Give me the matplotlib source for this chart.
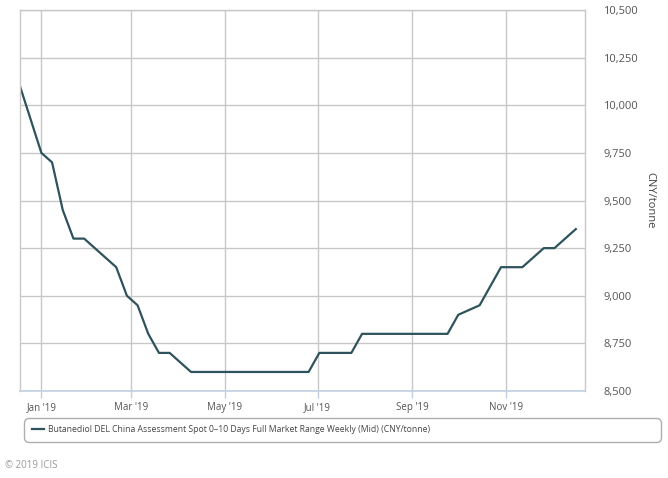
import numpy as np
import pandas as pd
import matplotlib
matplotlib.use('Agg')
import matplotlib.pyplot as plt
import matplotlib.dates as mdates
from matplotlib.ticker import FuncFormatter

plt.rcParams['font.family'] = ['Open Sans', 'DejaVu Sans']

# Weekly assessments (mid), CNY/tonne
dates = pd.date_range("2018-12-18", periods=53, freq="7D")
prices = [
    10100, 9925, 9750, 9700, 9450, 9300, 9300, 9250, 9200, 9150,
    9000, 8950, 8800, 8700, 8700, 8650, 8600, 8600, 8600, 8600,
    8600, 8600, 8600, 8600, 8600, 8600, 8600, 8600, 8700, 8700,
    8700, 8700, 8800, 8800, 8800, 8800, 8800, 8800, 8800, 8800,
    8800, 8900, 8925, 8950, 9050, 9150, 9150, 9150, 9200, 9250,
    9250, 9300, 9350,
]
series_name = "Butanediol DEL China Assessment Spot 0\u201310 Days Full Market Range Weekly (Mid) (CNY/tonne)"
y_ticks = [8500, 8750, 9000, 9250, 9500, 9750, 10000, 10250, 10500]
x_ticks = pd.to_datetime(["2019-01-01", "2019-03-01", "2019-05-01",
                          "2019-07-01", "2019-09-01", "2019-11-01"])

W, H = 668, 478
fig = plt.figure(figsize=(W / 100, H / 100), dpi=100)
ax = fig.add_axes([20 / W, 1 - 391 / H, 565 / W, 381 / H])

line_color = "#2f535c"
grid_color = "#c8c8c8"
ax.plot(dates, prices, color=line_color, lw=1.6, label=series_name,
        solid_joinstyle="round")

ax.set_xlim(dates[0], pd.Timestamp("2019-12-23"))
ax.set_ylim(8500, 10500)
ax.set_yticks(y_ticks)
ax.yaxis.set_major_formatter(FuncFormatter(lambda v, p: f"{int(v):,}"))
ax.set_xticks(x_ticks)
ax.xaxis.set_major_formatter(mdates.DateFormatter("%b '%y"))

ax.yaxis.tick_right()
ax.yaxis.set_label_position("right")
ax.tick_params(axis="y", length=0, pad=13, labelsize=8, labelcolor="#555555")
ax.tick_params(axis="x", length=5, width=1, color="#c0d0e0", pad=3,
               labelsize=7, labelcolor="#555555")
ax.grid(True, color=grid_color, lw=1)
ax.set_axisbelow(True)

for side in ["left", "right", "top"]:
    ax.spines[side].set_color(grid_color)
    ax.spines[side].set_linewidth(1)
ax.spines["bottom"].set_color("#c0d0e0")
ax.spines["bottom"].set_linewidth(1.2)

ax.set_ylabel("CNY/tonne", rotation=-90, fontsize=8, color="#444444",
              labelpad=5, va="bottom")

leg = ax.legend(loc="center left", bbox_to_anchor=(24 / W, 1 - 443 / H, 637 / W, 26 / H),
                bbox_transform=fig.transFigure, mode="expand", fancybox=True,
                frameon=True, fontsize=6.2, handlelength=1.4, borderaxespad=0,
                borderpad=0.9, handletextpad=0.5, labelcolor="#444444")
leg.get_frame().set_edgecolor("#999999")
leg.get_frame().set_linewidth(1)
leg.get_frame().set_boxstyle("round,pad=0,rounding_size=0.6")

fig.text(5 / W, 1 - 465 / H, "\u00a9 2019 ICIS", fontsize=7, color="#999999",
         va="center", ha="left")

fig.savefig("out.png", dpi=100)
